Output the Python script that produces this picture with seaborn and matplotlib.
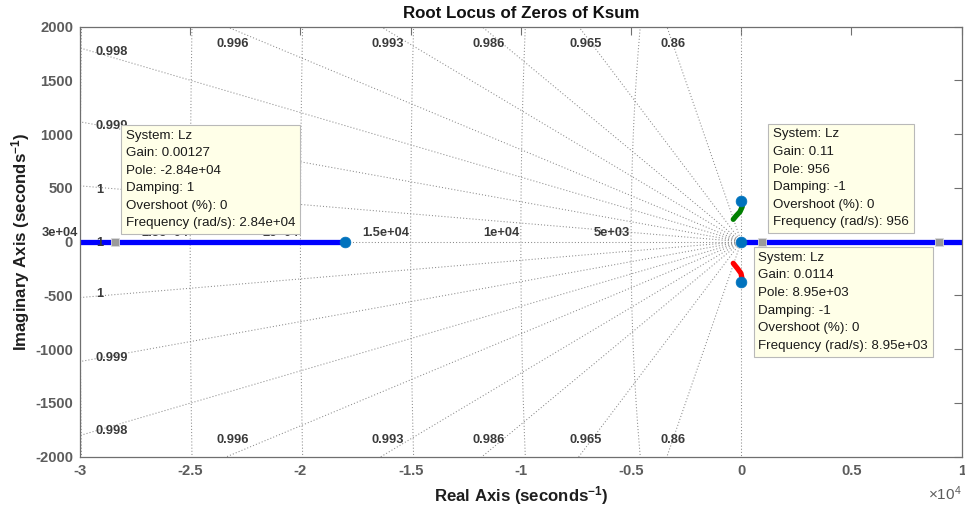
import numpy as np
import pandas as pd
import matplotlib
matplotlib.use("Agg")
import matplotlib.pyplot as plt
import seaborn as sns

# ---- root locus branches (real / imaginary parts, 1/s) ----
branch_left_re = [-32000, -18000]
branch_left_im = [0, 0]
branch_right_re = [0, 12000]
branch_right_im = [0, 0]
branch_upper_re = [0, 45, -59, -240, -363]
branch_upper_im = [380, 326, 279, 239, 208]
branch_lower_re = [-363, -181, -14, 32, 0]
branch_lower_im = [-201, -247, -294, -340, -372]

# starting points of the branches
start_re = [-18000, 0, 0, 0]
start_im = [0, 0, 380, -372]

# ---- s-plane grid ----
zeta_top = [0.99635, 0.9926, 0.98585, 0.9651, 0.8602]   # lines leaving through top/bottom
zeta_side = [0.9982, 0.99931, 0.99985, 1.0]             # lines leaving through left side
wn_grid = [5000, 10000, 15000, 20000, 25000, 30000]

# ---- data tips ----
tip_system = ["Lz", "Lz", "Lz"]
tip_re = [-28400, 956, 8950]
tip_gain = ["0.00127", "0.11", "0.0114"]
tip_pole = ["-2.84e+04", "956", "8.95e+03"]
tip_damping = ["1", "-1", "-1"]
tip_overshoot = ["0", "0", "0"]
tip_freq = ["2.84e+04", "956", "8.95e+03"]

xticks = [-30000, -25000, -20000, -15000, -10000, -5000, 0, 5000, 10000]
xtick_labels = ["-3", "-2.5", "-2", "-1.5", "-1", "-0.5", "0", "0.5", "1"]
yticks = [-2000, -1500, -1000, -500, 0, 500, 1000, 1500, 2000]
ytick_labels = ["-2000", "-1500", "-1000", "-500", "0", "500", "1000", "1500", "2000"]

XLIM = (-30000, 10000)
YLIM = (-2000, 2000)

sns.set_theme(style="white")
plt.rcParams["font.family"] = ["Liberation Sans", "DejaVu Sans"]
plt.rcParams["mathtext.fontset"] = "custom"
plt.rcParams["mathtext.rm"] = "Liberation Sans"
plt.rcParams["mathtext.bf"] = "Liberation Sans:bold"
plt.rcParams["mathtext.it"] = "Liberation Sans:italic"

PX = 0.72  # points per pixel at 100 dpi

fig = plt.figure(figsize=(9.65, 5.17), dpi=100)
ax = fig.add_axes([80 / 965, 1 - 456.7 / 517, 881.7 / 965, 430 / 517])
ax.set_xlim(*XLIM)
ax.set_ylim(*YLIM)

grid_kw = dict(color="#8a8a8a", lw=0.75, linestyle=(0, (1, 2)), zorder=1)

# damping lines, drawn outward from the origin
R = 40000.0
all_zeta = zeta_side + zeta_top + [0.0]
for z in all_zeta:
    s = np.sqrt(max(0.0, 1 - z * z))
    for sign in (1, -1):
        if z == 1.0 and sign == -1:
            continue
        ax.plot([0, -z * R], [0, sign * s * R], **grid_kw)

# natural frequency arcs (left half plane)
for wn in wn_grid:
    yy = np.linspace(-min(wn, 2100), min(wn, 2100), 600)
    xx = -np.sqrt(wn ** 2 - yy ** 2)
    ax.plot(xx, yy, **grid_kw)

lab_kw = dict(fontsize=9.3, fontweight="bold", color="#3a3a3a", zorder=4,
              textcoords="offset points")

# damping labels on top / bottom edges
for z in zeta_top:
    s = np.sqrt(1 - z * z)
    xe = -YLIM[1] * z / s
    txt = "{:.3g}".format(z)
    ax.annotate(txt, xy=(xe, YLIM[1]), xytext=(6.5 * PX, -17 * PX),
                ha="center", va="center", **lab_kw)
    ax.annotate(txt, xy=(xe, YLIM[0]), xytext=(6.5 * PX, 17 * PX),
                ha="center", va="center", **lab_kw)

# damping labels on the left edge
for z in zeta_side:
    s = np.sqrt(1 - z * z)
    ye = -XLIM[0] * s / z
    txt = "{:.3g}".format(z)
    signs = (1, -1) if ye > 0 else (0,)
    for sign in signs:
        dy = -4 * sign if sign != 0 else -1.5
        ax.annotate(txt, xy=(XLIM[0], sign * ye), xytext=(16 * PX, dy * PX),
                    ha="left", va="center", annotation_clip=False, **lab_kw)

# natural frequency labels along the real axis
for wn in wn_grid:
    ax.annotate("{:.2g}".format(wn), xy=(-wn, 0), xytext=(-1.5 * PX, 9 * PX),
                ha="right", va="center", annotation_clip=False, **lab_kw)

# ---- locus branches ----
branches = [
    (branch_left_re, branch_left_im, "#0000ff"),
    (branch_right_re, branch_right_im, "#0000ff"),
    (branch_upper_re, branch_upper_im, "#008000"),
    (branch_lower_re, branch_lower_im, "#ff0000"),
]
for re_, im_, col in branches:
    df = pd.DataFrame({"re": re_, "im": im_})
    sns.lineplot(data=df, x="re", y="im", sort=False, estimator=None,
                 color=col, linewidth=3.8, ax=ax, zorder=2,
                 solid_capstyle="round")

sns.scatterplot(x=start_re, y=start_im, ax=ax, color="#0072BD", s=60,
                edgecolor="#0072BD", linewidth=0.5, zorder=3)

# data tip markers and boxes
tip_y = [0, 0, 0]
sns.scatterplot(x=tip_re, y=tip_y, ax=ax, marker="s", color="#9a9a9a",
                s=36, edgecolor="#d8d8d8", linewidth=0.6, zorder=5)

box_kw = dict(boxstyle="square,pad=0.36", fc="#ffffe8", ec="#b9b9b9", lw=0.8)
placements = [
    ((10.5 * PX, 12.3 * PX), "left", "bottom"),
    ((10.5 * PX, 13.3 * PX), "left", "bottom"),
    ((-10.5 * PX, -10.2 * PX), "right", "top"),
]
for i, (off, ha, va) in enumerate(placements):
    text = ("System: {}\nGain: {}\nPole: {}\nDamping: {}\n"
            "Overshoot (%): {}\nFrequency (rad/s): {}").format(
        tip_system[i], tip_gain[i], tip_pole[i], tip_damping[i],
        tip_overshoot[i], tip_freq[i])
    ax.annotate(text, xy=(tip_re[i], tip_y[i]), xytext=off,
                textcoords="offset points", ha=ha, va=va,
                multialignment="left", fontsize=9.6, color="#1a1a1a",
                linespacing=1.62, bbox=box_kw, zorder=6)

# ---- axes styling ----
axis_col = "#6f6f6f"
for sp in ax.spines.values():
    sp.set_color(axis_col)
    sp.set_linewidth(0.9)
ax.set_xticks(xticks, labels=xtick_labels)
ax.set_yticks(yticks, labels=ytick_labels)
ax.tick_params(direction="in", length=5.8, width=0.8, colors=axis_col,
               top=True, right=True, labelsize=10.6, pad=5)
for lbl in ax.get_xticklabels() + ax.get_yticklabels():
    lbl.set_fontweight("bold")
    lbl.set_color("#5c5c5c")
ax.grid(False)

ax.set_title("Root Locus of Zeros of Ksum", fontsize=12.2, fontweight="bold",
             color="#111111", pad=6)
ax.set_xlabel(r"Real Axis (seconds$^{\mathbf{-1}}$)", fontsize=12.1,
              fontweight="bold", color="#1e1e1e", labelpad=5)
ax.set_ylabel(r"Imaginary Axis (seconds$^{\mathbf{-1}}$)", fontsize=12.1,
              fontweight="bold", color="#1e1e1e", labelpad=2)
ax.text(1.0, -0.065, "\u00d710$^{4}$", transform=ax.transAxes, ha="right",
        va="top", fontsize=11, color="#5c5c5c")

fig.savefig("out.png", dpi=100)
